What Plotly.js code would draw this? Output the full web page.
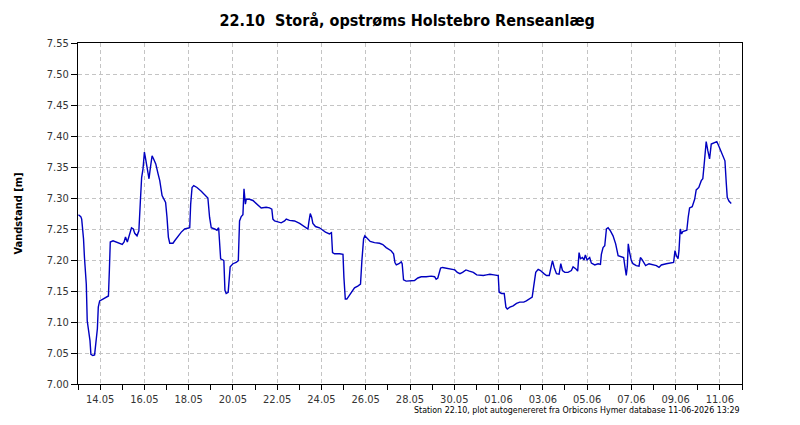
<!DOCTYPE html>
<html>
<head>
<meta charset="utf-8">
<script src="https://cdn.plot.ly/plotly-3.0.1.min.js"></script>
<style>html,body{margin:0;padding:0;background:#fff;}#chart{width:800px;height:425px;}</style>
</head>
<body>
<div id="chart"></div>
<script>
const chartTitle = "22.10\u00a0 Storå, opstrøms Holstebro Renseanlæg";
const yTitle = "Vandstand [m]";
const footerText = "Station 22.10, plot autogenereret fra Orbicons Hymer database 11-06-2026 13:29";

const times = [
"2026-05-13 00:30","2026-05-13 03:00","2026-05-13 04:00","2026-05-13 06:00","2026-05-13 07:00","2026-05-13 09:00",
"2026-05-13 10:00","2026-05-13 12:00","2026-05-13 13:00","2026-05-13 14:00","2026-05-13 16:00","2026-05-13 18:00",
"2026-05-13 19:00","2026-05-13 21:00","2026-05-13 22:00","2026-05-13 23:30","2026-05-14 03:00","2026-05-14 07:00",
"2026-05-14 09:00","2026-05-14 10:00","2026-05-14 11:00","2026-05-14 14:00","2026-05-14 19:30","2026-05-15 00:00",
"2026-05-15 02:00","2026-05-15 03:30","2026-05-15 05:30","2026-05-15 08:00","2026-05-15 10:00","2026-05-15 12:00",
"2026-05-15 13:30","2026-05-15 16:00","2026-05-15 18:00","2026-05-15 19:40","2026-05-15 21:00","2026-05-15 22:30",
"2026-05-16 00:00","2026-05-16 01:00","2026-05-16 03:00","2026-05-16 05:00","2026-05-16 06:30","2026-05-16 08:20",
"2026-05-16 10:00","2026-05-16 12:20","2026-05-16 14:50","2026-05-16 16:40","2026-05-16 19:10","2026-05-16 21:00",
"2026-05-16 23:00","2026-05-17 00:30","2026-05-17 02:00","2026-05-17 03:30","2026-05-17 07:00","2026-05-17 08:50",
"2026-05-17 12:30","2026-05-17 16:00","2026-05-17 19:40","2026-05-18 01:10","2026-05-18 02:10","2026-05-18 03:40",
"2026-05-18 05:30","2026-05-18 09:00","2026-05-18 13:40","2026-05-18 19:10","2026-05-18 20:50","2026-05-18 22:40",
"2026-05-19 00:30","2026-05-19 04:10","2026-05-19 06:40","2026-05-19 08:30","2026-05-19 09:30","2026-05-19 10:40",
"2026-05-19 13:10","2026-05-19 14:10","2026-05-19 15:20","2026-05-19 16:40","2026-05-19 18:50","2026-05-19 20:00",
"2026-05-19 21:00","2026-05-20 00:00","2026-05-20 03:30","2026-05-20 05:50","2026-05-20 07:10","2026-05-20 09:00",
"2026-05-20 10:50","2026-05-20 12:00","2026-05-20 13:30","2026-05-20 14:30","2026-05-20 18:00","2026-05-20 21:40",
"2026-05-21 01:10","2026-05-21 04:50","2026-05-21 06:40","2026-05-21 12:00","2026-05-21 15:40","2026-05-21 18:10",
"2026-05-21 19:20","2026-05-21 21:10","2026-05-22 00:40","2026-05-22 04:20","2026-05-22 08:00","2026-05-22 09:50",
"2026-05-22 13:20","2026-05-22 18:50","2026-05-23 00:20","2026-05-23 03:50","2026-05-23 07:30","2026-05-23 09:20",
"2026-05-23 10:20","2026-05-23 11:50","2026-05-23 13:20","2026-05-23 14:40","2026-05-23 17:30","2026-05-23 21:50",
"2026-05-24 01:30","2026-05-24 04:20","2026-05-24 08:40","2026-05-24 10:50","2026-05-24 12:00","2026-05-24 14:10",
"2026-05-24 19:40","2026-05-24 23:20","2026-05-25 00:20","2026-05-25 01:50","2026-05-25 03:30","2026-05-25 05:40",
"2026-05-25 08:10","2026-05-25 11:50","2026-05-25 15:20","2026-05-25 18:20","2026-05-25 19:50","2026-05-25 21:40",
"2026-05-25 23:00","2026-05-26 01:10","2026-05-26 04:50","2026-05-26 09:30","2026-05-26 15:00","2026-05-26 18:30",
"2026-05-26 22:10","2026-05-27 03:30","2026-05-27 06:10","2026-05-27 07:40","2026-05-27 09:10","2026-05-27 12:00",
"2026-05-27 14:30","2026-05-27 15:30","2026-05-27 17:00","2026-05-27 19:50","2026-05-28 01:20","2026-05-28 04:50",
"2026-05-28 08:30","2026-05-28 12:10","2026-05-28 17:30","2026-05-28 23:00","2026-05-29 02:40","2026-05-29 04:20",
"2026-05-29 06:10","2026-05-29 07:10","2026-05-29 09:10","2026-05-29 11:20","2026-05-29 15:40","2026-05-29 21:10",
"2026-05-30 00:40","2026-05-30 03:20","2026-05-30 06:10","2026-05-30 09:00","2026-05-30 12:40","2026-05-30 16:20",
"2026-05-30 20:40","2026-05-31 00:20","2026-05-31 03:50","2026-05-31 07:30","2026-05-31 11:00","2026-05-31 14:40",
"2026-05-31 19:00","2026-05-31 23:40","2026-06-01 00:40","2026-06-01 03:20","2026-06-01 06:10","2026-06-01 08:00",
"2026-06-01 09:30","2026-06-01 12:20","2026-06-01 15:50","2026-06-01 19:30","2026-06-01 23:00","2026-06-02 03:20",
"2026-06-02 06:10","2026-06-02 09:50","2026-06-02 12:30","2026-06-02 14:10","2026-06-02 16:20","2026-06-02 19:00",
"2026-06-02 21:30","2026-06-03 01:10","2026-06-03 04:00","2026-06-03 07:00","2026-06-03 08:40","2026-06-03 10:30",
"2026-06-03 12:20","2026-06-03 14:50","2026-06-03 17:40","2026-06-03 19:30","2026-06-03 21:20","2026-06-03 23:50",
"2026-06-04 03:20","2026-06-04 07:00","2026-06-04 08:50","2026-06-04 11:40","2026-06-04 13:50","2026-06-04 15:20",
"2026-06-04 16:50","2026-06-04 19:00","2026-06-04 20:40","2026-06-04 22:10","2026-06-05 00:00","2026-06-05 02:50",
"2026-06-05 04:40","2026-06-05 08:20","2026-06-05 12:00","2026-06-05 14:30","2026-06-05 15:30","2026-06-05 17:20",
"2026-06-05 19:10","2026-06-05 21:00","2026-06-05 22:50","2026-06-06 01:20","2026-06-06 04:10","2026-06-06 07:00",
"2026-06-06 09:40","2026-06-06 13:10","2026-06-06 15:40","2026-06-06 17:10","2026-06-06 18:30","2026-06-06 19:40",
"2026-06-06 20:40","2026-06-06 22:10","2026-06-07 00:00","2026-06-07 01:50","2026-06-07 05:20","2026-06-07 08:20",
"2026-06-07 09:50","2026-06-07 11:30","2026-06-07 13:20","2026-06-07 15:30","2026-06-07 19:10","2026-06-07 23:30",
"2026-06-08 03:10","2026-06-08 06:00","2026-06-08 08:30","2026-06-08 13:50","2026-06-08 19:20","2026-06-08 21:50",
"2026-06-08 23:20","2026-06-09 00:50","2026-06-09 02:40","2026-06-09 03:40","2026-06-09 05:00","2026-06-09 06:30",
"2026-06-09 07:50","2026-06-09 12:10","2026-06-09 13:40","2026-06-09 15:10","2026-06-09 18:00","2026-06-09 20:40",
"2026-06-09 22:20","2026-06-10 01:10","2026-06-10 03:50","2026-06-10 05:30","2026-06-10 07:20","2026-06-10 09:10",
"2026-06-10 11:00","2026-06-10 12:50","2026-06-10 14:40","2026-06-10 16:20","2026-06-10 18:10","2026-06-10 20:40",
"2026-06-10 22:50","2026-06-11 01:20","2026-06-11 03:10","2026-06-11 05:30","2026-06-11 07:00","2026-06-11 08:00",
"2026-06-11 09:50","2026-06-11 12:20"
];

const levels = [
7.273,7.270,7.266,7.234,7.204,7.161,
7.102,7.081,7.070,7.048,7.046,7.047,
7.059,7.089,7.124,7.134,7.137,7.140,
7.142,7.183,7.229,7.231,7.227,7.225,
7.229,7.237,7.229,7.242,7.252,7.250,
7.243,7.239,7.247,7.296,7.333,7.347,
7.374,7.366,7.347,7.331,7.349,7.368,
7.363,7.355,7.339,7.328,7.304,7.298,
7.293,7.269,7.237,7.227,7.227,7.231,
7.239,7.245,7.250,7.252,7.290,7.317,
7.320,7.317,7.311,7.302,7.300,7.269,
7.252,7.250,7.248,7.252,7.231,7.202,
7.200,7.199,7.151,7.146,7.148,7.172,
7.189,7.194,7.196,7.199,7.263,7.270,
7.273,7.315,7.290,7.298,7.298,7.296,
7.291,7.286,7.284,7.285,7.284,7.282,
7.266,7.263,7.261,7.260,7.263,7.266,
7.264,7.263,7.259,7.255,7.252,7.250,
7.261,7.275,7.269,7.259,7.254,7.252,
7.248,7.245,7.242,7.244,7.212,7.210,
7.210,7.209,7.172,7.137,7.137,7.142,
7.148,7.155,7.158,7.161,7.199,7.234,
7.239,7.235,7.230,7.228,7.227,7.225,
7.220,7.215,7.210,7.196,7.192,7.194,
7.197,7.194,7.168,7.166,7.166,7.167,
7.171,7.173,7.173,7.174,7.173,7.169,
7.171,7.177,7.187,7.188,7.187,7.185,
7.184,7.180,7.178,7.180,7.184,7.182,
7.180,7.176,7.175,7.175,7.176,7.177,
7.176,7.175,7.148,7.146,7.146,7.124,
7.121,7.124,7.126,7.130,7.132,7.132,
7.134,7.137,7.140,7.158,7.180,7.185,
7.183,7.178,7.175,7.175,7.188,7.199,
7.188,7.178,7.177,7.194,7.183,7.180,
7.180,7.183,7.189,7.186,7.182,7.212,
7.202,7.204,7.200,7.208,7.200,7.204,
7.195,7.192,7.194,7.193,7.209,7.220,
7.223,7.250,7.252,7.247,7.239,7.226,
7.207,7.205,7.204,7.188,7.175,7.190,
7.226,7.212,7.199,7.194,7.191,7.190,
7.204,7.201,7.196,7.191,7.194,7.193,
7.191,7.188,7.192,7.194,7.195,7.196,
7.215,7.207,7.202,7.215,7.250,7.242,
7.246,7.248,7.269,7.284,7.286,7.298,
7.313,7.317,7.328,7.331,7.360,7.391,
7.376,7.363,7.387,7.388,7.390,7.391,
7.384,7.374,7.368,7.360,7.323,7.301,
7.295,7.291
];

const xRange = ["2026-05-13 00:00", "2026-06-12 00:00"];
const firstLabel = "2026-05-14";
const yRange = [7.00, 7.55];

const fontFam = "'DejaVu Sans Condensed', 'Liberation Sans', sans-serif";
const DAY = 86400000;

const trace = {
  x: times, y: levels, type: "scatter", mode: "lines",
  line: {color: "#0000c0", width: 1.4},
  hoverinfo: "skip"
};

const layout = {
  width: 800, height: 425,
  margin: {l: 78, r: 58, t: 43, b: 40.5},
  paper_bgcolor: "#ffffff", plot_bgcolor: "#ffffff",
  showlegend: false,
  title: {
    text: "<b>" + chartTitle + "</b>",
    font: {family: fontFam, size: 16, color: "#000"},
    xref: "container", x: 0.509, xanchor: "center",
    yref: "container", y: 1 - 20/425, yanchor: "middle"
  },
  xaxis: {
    type: "date", range: xRange,
    tick0: firstLabel, dtick: 2*DAY, tickformat: "%d.%m",
    ticks: "outside", ticklen: 5, tickcolor: "#000", tickwidth: 1,
    minor: {dtick: DAY, tick0: firstLabel, ticks: "outside", ticklen: 5, tickcolor: "#000", showgrid: false},
    showgrid: true, gridcolor: "#c4c4c4", griddash: "4px,3px", gridwidth: 1,
    showline: true, linecolor: "#000", linewidth: 1, mirror: true,
    zeroline: false,
    tickfont: {family: fontFam, size: 11, color: "#333"}
  },
  yaxis: {
    range: yRange, dtick: 0.05, tick0: 7.0, tickformat: ".2f",
    ticks: "outside", ticklen: 6, tickcolor: "#000", tickwidth: 1,
    showgrid: true, gridcolor: "#c4c4c4", griddash: "4px,3px", gridwidth: 1,
    showline: true, linecolor: "#000", linewidth: 1, mirror: true,
    zeroline: false,
    tickfont: {family: fontFam, size: 11, color: "#333"}
  },
  annotations: [
    {
      text: "<b>" + yTitle + "</b>", textangle: -90,
      xref: "paper", yref: "paper", x: (18 - 78)/664, y: 0.5,
      xanchor: "center", yanchor: "middle", showarrow: false,
      font: {family: fontFam, size: 11, color: "#000"}
    },
    {
      text: footerText,
      xref: "paper", yref: "paper", x: 1, y: 0,
      xanchor: "right", yanchor: "middle", yshift: -25.5, showarrow: false,
      font: {family: fontFam, size: 8.8, color: "#000"}
    }
  ]
};

Plotly.newPlot("chart", [trace], layout, {displayModeBar: false, staticPlot: true});
</script>
</body>
</html>
